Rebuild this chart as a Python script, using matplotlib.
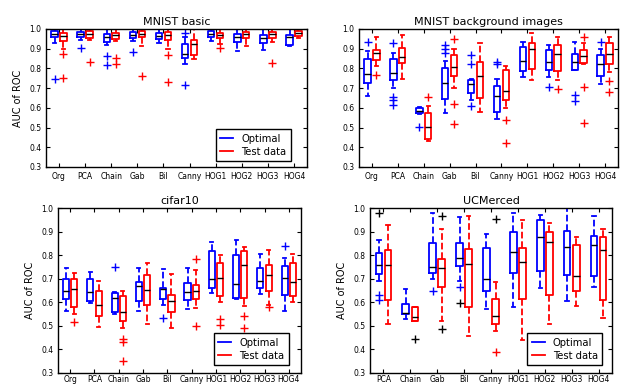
import numpy as np
import matplotlib
matplotlib.use("Agg")
import matplotlib.pyplot as plt
from matplotlib.lines import Line2D

# categories for each panel
cats10 = ["Org", "PCA", "Chain", "Gab", "Bil", "Canny", "HOG1", "HOG2", "HOG3", "HOG4"]
cats9 = ["PCA", "Chain", "Gab", "Bil", "Canny", "HOG1", "HOG2", "HOG3", "HOG4"]

# MNIST basic -- optimal (blue) / test data (red): q1, med, q3, lo, hi, fliers
mb_opt_q1 = [0.96, 0.96, 0.935, 0.955, 0.95, 0.853, 0.96, 0.932, 0.93, 0.92]
mb_opt_med = [0.975, 0.975, 0.96, 0.97, 0.965, 0.875, 0.975, 0.96, 0.955, 0.96]
mb_opt_q3 = [0.99, 0.985, 0.975, 0.985, 0.98, 0.925, 0.99, 0.975, 0.97, 0.97]
mb_opt_lo = [0.93, 0.945, 0.92, 0.94, 0.93, 0.82, 0.94, 0.89, 0.895, 0.915]
mb_opt_hi = [1.0, 1.0, 1.0, 1.0, 1.0, 0.96, 1.0, 1.0, 1.0, 1.0]
mb_opt_fl = [[0.747], [0.905], [0.865, 0.815], [0.885], [], [0.98, 0.715], [], [], [], []]
mb_tst_q1 = [0.94, 0.955, 0.95, 0.96, 0.945, 0.87, 0.955, 0.955, 0.955, 0.965]
mb_tst_med = [0.965, 0.975, 0.97, 0.975, 0.97, 0.925, 0.97, 0.975, 0.975, 0.98]
mb_tst_q3 = [0.98, 0.99, 0.98, 0.99, 0.985, 0.945, 0.98, 0.985, 0.985, 0.99]
mb_tst_lo = [0.90, 0.945, 0.94, 0.915, 0.90, 0.85, 0.925, 0.915, 0.935, 0.955]
mb_tst_hi = [1.0, 1.0, 1.0, 1.0, 1.0, 1.0, 1.0, 1.0, 1.0, 1.0]
mb_tst_fl = [[0.875, 0.75], [0.835], [0.855, 0.82], [0.76], [0.87, 0.73], [], [0.905], [], [0.83], []]

# MNIST background images
bg_opt_q1 = [0.725, 0.742, 0.575, 0.645, 0.674, 0.58, 0.788, 0.79, 0.79, 0.76]
bg_opt_med = [0.772, 0.775, 0.585, 0.725, 0.72, 0.662, 0.84, 0.833, 0.832, 0.82]
bg_opt_q3 = [0.85, 0.847, 0.598, 0.80, 0.742, 0.71, 0.91, 0.895, 0.874, 0.87]
bg_opt_lo = [0.66, 0.70, 0.57, 0.575, 0.64, 0.545, 0.755, 0.755, 0.79, 0.72]
bg_opt_hi = [0.886, 0.88, 0.605, 0.84, 0.745, 0.745, 0.935, 0.92, 0.935, 0.90]
bg_opt_fl = [[0.935], [0.93, 0.655, 0.64, 0.615], [0.505], [0.92, 0.90, 0.88], [0.87, 0.825, 0.61],
             [0.835, 0.82], [], [0.705], [0.665, 0.635], [0.935]]
bg_tst_q1 = [0.845, 0.827, 0.44, 0.762, 0.652, 0.64, 0.797, 0.785, 0.827, 0.825]
bg_tst_med = [0.877, 0.86, 0.505, 0.805, 0.76, 0.688, 0.90, 0.875, 0.863, 0.875]
bg_tst_q3 = [0.895, 0.903, 0.573, 0.87, 0.835, 0.793, 0.93, 0.92, 0.895, 0.93]
bg_tst_lo = [0.81, 0.745, 0.43, 0.70, 0.58, 0.60, 0.74, 0.74, 0.82, 0.78]
bg_tst_hi = [0.96, 0.97, 0.61, 0.90, 0.93, 0.81, 0.98, 0.96, 0.93, 0.96]
bg_tst_fl = [[0.765], [], [0.655], [0.95, 0.62, 0.52], [], [0.54, 0.42], [], [0.695],
             [0.96, 0.705, 0.525], [0.735, 0.68]]

# cifar10
cf_opt_q1 = [0.613, 0.607, 0.557, 0.607, 0.615, 0.61, 0.662, 0.62, 0.662, 0.632]
cf_opt_med = [0.647, 0.643, 0.62, 0.668, 0.658, 0.643, 0.697, 0.678, 0.69, 0.705]
cf_opt_q3 = [0.698, 0.70, 0.64, 0.687, 0.66, 0.68, 0.817, 0.80, 0.747, 0.754]
cf_opt_lo = [0.565, 0.595, 0.55, 0.565, 0.59, 0.57, 0.64, 0.615, 0.635, 0.565]
cf_opt_hi = [0.745, 0.73, 0.645, 0.745, 0.74, 0.745, 0.855, 0.865, 0.805, 0.79]
cf_opt_fl = [[], [], [0.75], [], [0.532], [], [], [], [], [0.84]]
cf_tst_q1 = [0.578, 0.54, 0.522, 0.59, 0.557, 0.613, 0.627, 0.617, 0.648, 0.627]
cf_tst_med = [0.657, 0.59, 0.557, 0.653, 0.605, 0.648, 0.705, 0.76, 0.715, 0.687]
cf_tst_q3 = [0.70, 0.648, 0.625, 0.715, 0.632, 0.675, 0.768, 0.818, 0.76, 0.768]
cf_tst_lo = [0.55, 0.495, 0.49, 0.51, 0.49, 0.575, 0.60, 0.585, 0.59, 0.60]
cf_tst_hi = [0.725, 0.69, 0.65, 0.765, 0.72, 0.735, 0.80, 0.835, 0.82, 0.805]
cf_tst_fl = [[0.515], [], [0.445, 0.43, 0.35], [], [], [0.785, 0.5], [0.53, 0.505], [0.54, 0.49],
             [0.58], []]

# UCMerced
uc_opt_q1 = [0.72, 0.55, 0.726, 0.755, 0.648, 0.726, 0.732, 0.715, 0.712]
uc_opt_med = [0.757, 0.555, 0.75, 0.79, 0.70, 0.813, 0.877, 0.835, 0.843]
uc_opt_q3 = [0.81, 0.592, 0.85, 0.85, 0.83, 0.897, 0.948, 0.902, 0.88]
uc_opt_lo = [0.69, 0.53, 0.70, 0.69, 0.57, 0.58, 0.66, 0.605, 0.665]
uc_opt_hi = [0.865, 0.655, 0.98, 0.96, 0.89, 0.98, 0.97, 1.0, 0.965]
uc_opt_fl = [[0.63, 0.61], [], [0.65], [0.665], [], [], [], [], []]
uc_tst_q1 = [0.61, 0.522, 0.665, 0.578, 0.508, 0.613, 0.63, 0.648, 0.61]
uc_tst_med = [0.757, 0.537, 0.745, 0.763, 0.54, 0.772, 0.855, 0.71, 0.822]
uc_tst_q3 = [0.82, 0.578, 0.782, 0.827, 0.613, 0.83, 0.897, 0.842, 0.878]
uc_tst_lo = [0.51, 0.52, 0.52, 0.455, 0.48, 0.44, 0.51, 0.585, 0.535]
uc_tst_hi = [0.93, 0.58, 0.91, 0.965, 0.685, 0.95, 0.935, 0.875, 0.91]
uc_tst_fl = [[], [], [], [], [0.39], [], [], [], []]
# black '+' outliers in UCMerced: category index, side (-1 optimal, +1 test), value
uc_black_idx = [0, 1, 2, 2, 3, 4]
uc_black_side = [-1, 1, 1, 1, -1, 1]
uc_black_val = [0.98, 0.445, 0.965, 0.485, 0.595, 0.955]

OFF = 0.17


def make_stats(q1, med, q3, lo, hi, fl):
    return [dict(q1=a, med=b, q3=c, whislo=d, whishi=e, fliers=f)
            for a, b, c, d, e, f in zip(q1, med, q3, lo, hi, fl)]


def draw_boxes(ax, stats, pos, color):
    ax.bxp(stats, positions=pos, widths=0.25, showfliers=True, manage_ticks=False,
           boxprops=dict(color=color, linewidth=1.3),
           whiskerprops=dict(color=color, linestyle="--", linewidth=1.3),
           capprops=dict(color=color, linewidth=1.3),
           medianprops=dict(color="black", linewidth=1.0),
           flierprops=dict(marker="+", markeredgecolor=color, markersize=6, linestyle="none"))


def panel(rect, title, cats, opt, tst, ylabel=False, leg_anchor=None, bottom=False):
    ax = fig.add_axes(rect)
    x = np.arange(1, len(cats) + 1)
    draw_boxes(ax, make_stats(*opt), x - OFF, "blue")
    draw_boxes(ax, make_stats(*tst), x + OFF, "red")
    ax.set_xlim(0.5, len(cats) + 0.5)
    ax.set_ylim(0.3, 1.0)
    ax.set_xticks(x)
    ax.set_xticklabels(cats)
    ax.set_yticks(np.arange(0.3, 1.01, 0.1))
    ax.set_yticklabels(["%.1f" % v for v in np.arange(0.3, 1.01, 0.1)])
    ax.tick_params(direction="in", top=True, right=True, labelsize=5.5, length=3)
    if bottom:
        ax.tick_params(axis="x", pad=1.5)
    ax.set_title(title, fontsize=8, pad=3)
    for s in ax.spines.values():
        s.set_linewidth(1.0)
    if ylabel:
        ax.set_ylabel("AUC of ROC", fontsize=7)
    if leg_anchor is not None:
        h = [Line2D([], [], color="blue", lw=1.3), Line2D([], [], color="red", lw=1.3)]
        ax.legend(h, ["Optimal", "Test data"], loc="lower right", bbox_to_anchor=leg_anchor,
                  borderaxespad=0, fontsize=7.2, fancybox=False, edgecolor="black",
                  handlelength=1.3, borderpad=0.45, labelspacing=0.3, framealpha=1)
    return ax


fig = plt.figure(figsize=(6.21, 3.85), dpi=100)
W, H = 621.0, 385.0


def r(l, t, rr, b):
    return [l / W, 1 - b / H, (rr - l) / W, (b - t) / H]


panel(r(46, 29, 307, 167), "MNIST basic", cats10,
      (mb_opt_q1, mb_opt_med, mb_opt_q3, mb_opt_lo, mb_opt_hi, mb_opt_fl),
      (mb_tst_q1, mb_tst_med, mb_tst_q3, mb_tst_lo, mb_tst_hi, mb_tst_fl),
      ylabel=True, leg_anchor=(0.939, 0.043))
panel(r(359, 29, 618, 167), "MNIST background images", cats10,
      (bg_opt_q1, bg_opt_med, bg_opt_q3, bg_opt_lo, bg_opt_hi, bg_opt_fl),
      (bg_tst_q1, bg_tst_med, bg_tst_q3, bg_tst_lo, bg_tst_hi, bg_tst_fl))
panel(r(58, 208, 301, 373), "cifar10", cats10,
      (cf_opt_q1, cf_opt_med, cf_opt_q3, cf_opt_lo, cf_opt_hi, cf_opt_fl),
      (cf_tst_q1, cf_tst_med, cf_tst_q3, cf_tst_lo, cf_tst_hi, cf_tst_fl),
      ylabel=True, leg_anchor=(0.95, 0.048), bottom=True)
ax4 = panel(r(370, 208, 612, 373), "UCMerced", cats9,
            (uc_opt_q1, uc_opt_med, uc_opt_q3, uc_opt_lo, uc_opt_hi, uc_opt_fl),
            (uc_tst_q1, uc_tst_med, uc_tst_q3, uc_tst_lo, uc_tst_hi, uc_tst_fl),
            ylabel=True, leg_anchor=(0.96, 0.048), bottom=True)
bx = np.array(uc_black_idx) + 1 + OFF * np.array(uc_black_side)
ax4.plot(bx, uc_black_val, "k+", markersize=6, clip_on=False)

fig.savefig("out.png", dpi=100)
